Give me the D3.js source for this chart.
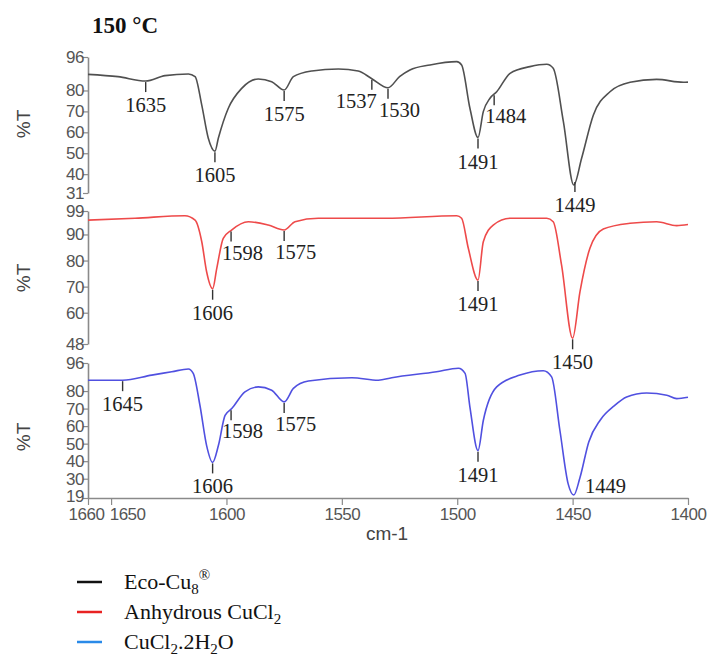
<!DOCTYPE html>
<html>
<head>
<meta charset="utf-8">
<script src="https://cdn.jsdelivr.net/npm/d3@7"></script>
<style>
  body { margin:0; background:#fff; }
  svg { display:block; }
</style>
</head>
<body>
<script>
/////////////////////////////////////////////////////////////////////
// DATA
/////////////////////////////////////////////////////////////////////
var xTicks = [1660, 1650, 1600, 1550, 1500, 1450, 1400];

// Eco-Cu8 (top panel)
var ecoWave = [1660,1647,1635,1626.6,1616.5,1613.6,1610.7,1607.9,1605,1603.5,1599.2,1593.4,1586.2,1580.4,1575,1571,1563,1551.5,1542.9,1537,1530,1525,1520.5,1511.8,1500.2,1498.1,1494.5,1491,1488.7,1485.8,1482.9,1477.1,1468.5,1461.2,1458.4,1454,1449.5,1446.1,1441,1433.8,1425.1,1413.6,1402,1400];
var ecoT    = [87.7,86.6,84.5,87.1,87.9,86.6,73,57.3,51,57.3,71.5,81,85.5,84.2,80.2,86.6,89.3,90.3,89.3,85.6,81.3,86.6,89.8,92.2,93.8,92.2,71.5,57.5,69.9,76.3,79.4,88.2,91.4,92.5,90.6,65.1,34.8,47.6,68.3,79.4,83.9,85.3,83.9,84];
var ecoTicks = [96, 80, 70, 60, 50, 40, 31];
var ecoPeaks = [1635, 1605, 1575, 1537, 1530, 1491, 1484, 1449];
var ecoSide  = ["c", "c", "c", "l", "r", "c", "r", "c"];

// Anhydrous CuCl2 (middle panel)
var anhWave = [1660,1639.6,1618,1613.6,1610.7,1608.6,1606,1604.2,1601.4,1597.8,1590.5,1581.9,1575,1570.3,1560.2,1531,1500.2,1498.1,1495.2,1491,1488.7,1484.4,1477.1,1461.2,1458.4,1454.8,1450,1446.8,1442.5,1436.7,1425.1,1413.6,1404.9,1400];
var anhT    = [95.5,96.2,97.2,95.5,87.2,75.7,69.2,77,88.5,91.7,94.9,93.6,91.7,94.9,96.2,96.2,97.2,96.2,84.7,72.5,87.2,93.6,96.2,96.2,94.9,78.3,50.2,68.1,84.7,92.1,94.3,94.9,93.4,93.8];
var anhTicks = [99, 90, 80, 70, 60, 48];
var anhPeaks = [1606, 1598, 1575, 1491, 1450];
var anhSide  = ["c", "r", "r", "c", "c"];

// CuCl2.2H2O (bottom panel)
var dihWave = [1660,1645,1632.4,1623.7,1616.5,1614.4,1611.5,1608.6,1606,1603.5,1600.6,1597.7,1592,1586.2,1580.4,1575,1571,1564.5,1545.7,1534.2,1528.4,1509,1499.5,1496.6,1494.5,1491,1488.7,1482.9,1472.8,1462.7,1459.1,1455.5,1451.9,1449.5,1446.8,1443,1438,1432,1426.6,1417.9,1409.2,1404.9,1400];
var dihT    = [86.2,86.2,89.1,91,92.6,90.1,71.9,48.9,39.3,48.9,66.1,70,79.5,82.4,80.5,73.8,81.5,85.7,87.6,86.2,87.6,91,93,90.1,70.9,46,63.2,82.4,89.1,91.6,88.1,57.5,26.9,20.7,30.7,51,63.5,71.5,76.6,78.9,77.6,75.7,76.5];
var dihTicks = [96, 80, 70, 60, 50, 40, 30, 19];
var dihPeaks = [1645, 1606, 1598, 1575, 1491, 1449];
var dihSide  = ["c", "c", "r", "r", "c", "s"];

var legendNames = ["Eco-Cu8®", "Anhydrous CuCl2", "CuCl2.2H2O"];

/////////////////////////////////////////////////////////////////////
// SETUP
/////////////////////////////////////////////////////////////////////
var W = 707, H = 656;
var svg = d3.select("body").append("svg").attr("width", W).attr("height", H);

var x = d3.scaleLinear().domain([1660, 1400]).range([88, 688]);

var panels = [
   {wave:ecoWave, t:ecoT, ticks:ecoTicks, peaks:ecoPeaks, side:ecoSide, color:"#505050", top:57,  bottom:193, yLab:124},
   {wave:anhWave, t:anhT, ticks:anhTicks, peaks:anhPeaks, side:anhSide, color:"#ee4a4a", top:211, bottom:344, yLab:278},
   {wave:dihWave, t:dihT, ticks:dihTicks, peaks:dihPeaks, side:dihSide, color:"#5050e0", top:363, bottom:498, yLab:437}
];

// Title
svg.append("text").attr("x", 92).attr("y", 33)
   .style("font-family", "'Liberation Serif','Times New Roman',serif")
   .style("font-weight", "bold").style("font-size", "23px")
   .attr("fill", "#111").text("150 °C");

//-------------------------------------------------------------------
// linear lookup of %T at a given wavenumber
//-------------------------------------------------------------------
function valueAt(wave, t, w){
   for (var i = 0; i < wave.length - 1; i++) {
      if (w <= wave[i] && w >= wave[i+1]) {
         var f = (wave[i] - w) / (wave[i] - wave[i+1]);
         return t[i] + f * (t[i+1] - t[i]);
      }
   }
   return t[t.length - 1];
}

/////////////////////////////////////////////////////////////////////
// PANELS
/////////////////////////////////////////////////////////////////////
panels.forEach(function(p, k){
   var dom = [p.ticks[p.ticks.length - 1], p.ticks[0]];
   var y = d3.scaleLinear().domain(dom).range([p.bottom, p.top]);

   // y axis
   var ax = svg.append("g").attr("transform", "translate(88,0)")
      .call(d3.axisLeft(y).tickValues(p.ticks).tickFormat(d3.format("d")).tickSizeInner(5).tickSizeOuter(0));
   ax.select(".domain").attr("stroke", "#8a8a8a").attr("stroke-width", 1.6);
   ax.selectAll(".tick line").attr("stroke", "#8a8a8a").attr("stroke-width", 1.2);
   ax.selectAll(".tick text").attr("x", -4)
     .style("font-family", "'Liberation Sans',Arial,sans-serif").style("font-size", "17px")
     .attr("fill", "#555").attr("letter-spacing", "-0.5px");
   // lowest label of the bottom panel lifted a touch off the x labels
   if (k == panels.length - 1)
      ax.selectAll(".tick text").filter(function(d){ return d == dom[0]; }).attr("dy", "0.2em");

   // %T label
   svg.append("text").attr("transform", "translate(30," + p.yLab + ") rotate(-90)")
      .attr("text-anchor", "middle")
      .style("font-family", "'Liberation Sans',Arial,sans-serif").style("font-size", "19px")
      .attr("fill", "#444").text("%T");

   // spectrum
   var line = d3.line()
      .x(function(d, i){ return x(p.wave[i]); })
      .y(function(d){ return y(d); })
      .curve(d3.curveMonotoneX);
   svg.append("path").datum(p.t).attr("d", line)
      .attr("fill", "none").attr("stroke", p.color).attr("stroke-width", 1.6);

   // peak markers
   p.peaks.forEach(function(w, i){
      var px = x(w), py = y(valueAt(p.wave, p.t, w));
      var side = p.side[i];
      var lab = svg.append("text")
         .style("font-family", "'Liberation Serif','Times New Roman',serif")
         .style("font-size", "20.5px").attr("fill", "#222").text(w);
      if (side == "s") {
         lab.attr("x", px + 10).attr("y", py + 1).attr("text-anchor", "start");
         return;
      }
      svg.append("line").attr("x1", px).attr("x2", px)
         .attr("y1", py + 1).attr("y2", py + 11)
         .attr("stroke", "#333").attr("stroke-width", 1.4);
      var by = py + 31;
      if (side == "c") lab.attr("x", px).attr("y", by).attr("text-anchor", "middle");
      if (side == "l") lab.attr("x", px + 5).attr("y", by - 2).attr("text-anchor", "end");
      if (side == "r") lab.attr("x", px - 9).attr("y", by - 2).attr("text-anchor", "start");
   });
});

/////////////////////////////////////////////////////////////////////
// X AXIS
/////////////////////////////////////////////////////////////////////
var xa = svg.append("g").attr("transform", "translate(0,498)")
   .call(d3.axisBottom(x).tickValues(xTicks).tickFormat(d3.format("d")).tickSizeInner(7).tickSizeOuter(0));
xa.select(".domain").attr("stroke", "#8a8a8a").attr("stroke-width", 1.6);
xa.selectAll(".tick line").attr("stroke", "#8a8a8a").attr("stroke-width", 1.2);
xa.selectAll(".tick text").attr("y", 10)
  .style("font-family", "'Liberation Sans',Arial,sans-serif").style("font-size", "17px")
  .attr("fill", "#555").attr("letter-spacing", "-0.5px");
// 1660 / 1650 labels nudged apart so they sit side by side
xa.selectAll(".tick text").filter(function(d){ return d == 1660; }).attr("dx", -2);
xa.selectAll(".tick text").filter(function(d){ return d == 1650; }).attr("dx", 16);

svg.append("text").attr("x", 387).attr("y", 540).attr("text-anchor", "middle")
   .style("font-family", "'Liberation Sans',Arial,sans-serif").style("font-size", "19px")
   .attr("fill", "#444").text("cm-1");

/////////////////////////////////////////////////////////////////////
// LEGEND
/////////////////////////////////////////////////////////////////////
var legColors = ["#111", "#e82222", "#2a8ae8"];
var leg = svg.append("g").attr("transform", "translate(0,582)");
legendNames.forEach(function(n, i){
   var g = leg.append("g").attr("transform", "translate(0," + (i * 30) + ")");
   g.append("line").attr("x1", 77).attr("x2", 102).attr("y1", 0).attr("y2", 0)
    .attr("stroke", legColors[i]).attr("stroke-width", 2.5);
   var t = g.append("text").attr("x", 124).attr("y", 7)
    .style("font-family", "'Liberation Serif','Times New Roman',serif")
    .style("font-size", "22px").attr("fill", "#111");
   // split into plain, subscript and superscript pieces
   var parts;
   if (i == 0) parts = [["Eco-Cu",""],["8","sub"],["®","sup"]];
   if (i == 1) parts = [["Anhydrous CuCl",""],["2","sub"]];
   if (i == 2) parts = [["CuCl",""],["2","sub"],[".2H",""],["2","sub"],["O",""]];
   var shift = 0;
   parts.forEach(function(q){
      var dy = 0, fs = "22px";
      if (q[1] == "sub") { dy = 5 - shift; fs = "15px"; }
      else if (q[1] == "sup") { dy = -9 - shift; fs = "15px"; }
      else { dy = -shift; }
      shift += dy;
      t.append("tspan").attr("dy", dy).style("font-size", fs).text(q[0]);
   });
});
</script>
</body>
</html>
